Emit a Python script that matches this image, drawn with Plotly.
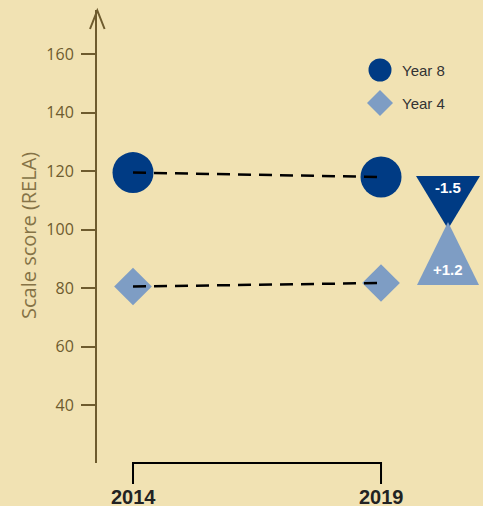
import plotly.graph_objects as go

years = [2014, 2019]
year8 = [119.5, 118.0]
year4 = [80.6, 81.8]
series_names = ["Year 8", "Year 4"]
tick_vals = [40, 60, 80, 100, 120, 140, 160]

BG = "#F1E2B3"
AXIS = "#6E5B2E"
TITLE_C = "#857346"
DARK = "#003B84"
LIGHT = "#7E9DC4"

W, H = 483, 506
L, R, T, B = 97, 0, 10, 43
PW, PH = W - L - R, H - T - B
X0, X1 = 2013.274, 2021.056
Y0, Y1 = 20.35, 175.0


def px2x(px):
    return X0 + (px - L) / PW * (X1 - X0)


def py2y(py):
    return Y0 + (H - B - py) / PH * (Y1 - Y0)


def px2paper(px):
    return (px - L) / PW


def py2paper(py):
    return (H - B - py) / PH


fig = go.Figure()

# markers
fig.add_trace(go.Scatter(x=years, y=year8, mode="markers",
                         marker=dict(symbol="circle", size=41, color=DARK, line=dict(width=0)),
                         showlegend=False, hoverinfo="skip"))
fig.add_trace(go.Scatter(x=years, y=year4, mode="markers",
                         marker=dict(symbol="diamond", size=29, color=LIGHT, line=dict(width=0)),
                         showlegend=False, hoverinfo="skip"))
# dashed connectors (on top)
for ys in (year8, year4):
    fig.add_trace(go.Scatter(x=years, y=ys, mode="lines",
                             line=dict(color="black", width=2.5, dash="13px,8px"),
                             showlegend=False, hoverinfo="skip"))

# legend markers
fig.add_trace(go.Scatter(x=[px2x(380)], y=[py2y(70)], mode="markers",
                         marker=dict(symbol="circle", size=23, color=DARK),
                         showlegend=False, hoverinfo="skip"))
fig.add_trace(go.Scatter(x=[px2x(380)], y=[py2y(103)], mode="markers",
                         marker=dict(symbol="diamond", size=20, color=LIGHT),
                         showlegend=False, hoverinfo="skip"))

shapes = []
# arrow head on y axis
shapes.append(dict(type="path", xref="paper", yref="paper",
                   path=f"M {px2paper(90)},{py2paper(29)} L {px2paper(97.3)},{py2paper(10.5)} L {px2paper(104.6)},{py2paper(29)}",
                   line=dict(color=AXIS, width=2)))
# change triangles
shapes.append(dict(type="path", xref="paper", yref="paper",
                   path=f"M {px2paper(416)},{py2paper(176)} L {px2paper(480)},{py2paper(176)} L {px2paper(448)},{py2paper(229)} Z",
                   fillcolor=DARK, line=dict(width=0)))
shapes.append(dict(type="path", xref="paper", yref="paper",
                   path=f"M {px2paper(417)},{py2paper(285)} L {px2paper(479)},{py2paper(285)} L {px2paper(448)},{py2paper(222)} Z",
                   fillcolor=LIGHT, line=dict(width=0)))
# bracket
shapes.append(dict(type="path", xref="x", yref="paper",
                   path=f"M {years[0]},{py2paper(484)} L {years[0]},{py2paper(463)} L {years[1]},{py2paper(463)} L {years[1]},{py2paper(484)}",
                   line=dict(color="black", width=2)))

annotations = []
for yr in years:
    annotations.append(dict(x=yr, y=py2paper(484), xref="x", yref="paper", text=f"<b>{yr}</b>",
                            showarrow=False, yanchor="top", xanchor="center",
                            font=dict(family="Liberation Sans, Arial", size=20, color="#222222")))
annotations.append(dict(x=px2paper(28), y=py2paper(236), xref="paper", yref="paper",
                        text="Scale score (RELA)", textangle=-90, showarrow=False,
                        xanchor="center", yanchor="middle",
                        font=dict(family="Open Sans", size=20, color=TITLE_C)))
for name, py in zip(series_names, (70, 103)):
    annotations.append(dict(x=px2x(400), y=py2y(py), xref="x", yref="y", text=name,
                            showarrow=False, xanchor="left", yanchor="middle",
                            font=dict(family="Liberation Sans, Arial", size=15, color="#333333")))
d8 = year8[1] - year8[0]
d4 = year4[1] - year4[0]
annotations.append(dict(x=px2paper(448), y=py2paper(187), xref="paper", yref="paper", text=f"<b>{d8:+.1f}</b>",
                        showarrow=False, xanchor="center", yanchor="middle",
                        font=dict(family="Liberation Sans, Arial", size=15, color="white")))
annotations.append(dict(x=px2paper(448), y=py2paper(269), xref="paper", yref="paper", text=f"<b>{d4:+.1f}</b>",
                        showarrow=False, xanchor="center", yanchor="middle",
                        font=dict(family="Liberation Sans, Arial", size=15, color="white")))

fig.update_layout(
    width=W, height=H,
    margin=dict(l=L, r=R, t=T, b=B, pad=0),
    paper_bgcolor=BG, plot_bgcolor=BG,
    showlegend=False,
    shapes=shapes, annotations=annotations,
    xaxis=dict(range=[X0, X1], visible=False, fixedrange=True),
    yaxis=dict(range=[Y0, Y1], tickvals=tick_vals, showgrid=False, zeroline=False,
               showline=True, linecolor=AXIS, linewidth=2,
               ticks="outside", ticklen=14, tickwidth=2, tickcolor=AXIS,
               ticklabelstandoff=4,
               tickfont=dict(family="Open Sans", size=16, color=AXIS)),
)

fig.write_html("out.html", config={"displayModeBar": False},
               post_script="document.body.style.margin='0';document.body.style.overflow='hidden';document.documentElement.style.overflow='hidden';")
